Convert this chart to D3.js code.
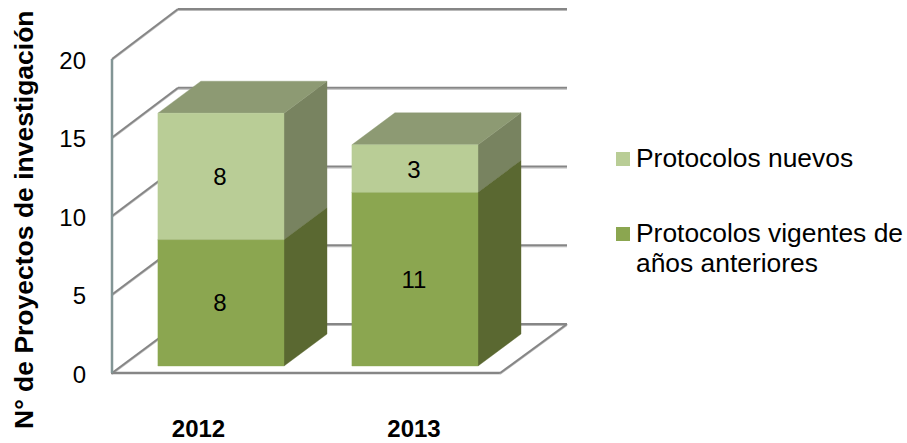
<!DOCTYPE html>
<html><head><meta charset="utf-8">
<script src="https://cdn.jsdelivr.net/npm/d3@7"></script>
<style>html,body{margin:0;padding:0;background:#fff}svg{display:block}text{font-family:"Liberation Sans",Arial,sans-serif;fill:#000}</style>
</head><body><div id="c"></div>
<script>
const categories = ["2012","2013"];
const seriesNames = ["Protocolos vigentes de|años anteriores","Protocolos nuevos"];
const vigentes = [8,11];
const nuevos = [8,3];
const yTicks = [0,5,10,15,20];
const yTitle = "N° de Proyectos de investigación";

const W=907,H=443;
const svg=d3.select("#c").append("svg").attr("width",W).attr("height",H);
const wallFront=d3.scaleLinear().domain([0,20]).range([373,59]);
const wallBack=d3.scaleLinear().domain([0,20]).range([324,9]);
const yBar=d3.scaleLinear().domain([0,20]).range([366,50]);
const x=d3.scaleBand().domain(categories).range([112,500]).paddingInner(0.35).paddingOuter(0.175).align(0.676);
const xLabel=d3.scalePoint().domain(categories).range([198.5,414]);
const backL=178, backR=567, frontL=112, frontR=500, dx=43, dy=-32;
const gridCol="#868686";

function seg(x1,y1,x2,y2,col,w){svg.append("line").attr("x1",x1).attr("y1",y1).attr("x2",x2).attr("y2",y2).attr("stroke",col).attr("stroke-width",w);}
yTicks.forEach(t=>{
  seg(frontL,wallFront(t)+1.2,backL,wallBack(t)+1.2,"#bdbdbd",1.5);
  seg(frontL,wallFront(t),backL,wallBack(t),gridCol,2);
  seg(backL,wallBack(t)+1.5,backR,wallBack(t)+1.5,"#b9b9b9",1.2);
  seg(backL,wallBack(t),backR,wallBack(t),gridCol,2.2);
});
seg(frontL-1,wallFront(0),frontR,wallFront(0),gridCol,2.5);
seg(frontR,wallFront(0)+1.2,backR,wallBack(0)+1.2,"#bdbdbd",1.5);
seg(frontR,wallFront(0),backR,wallBack(0),gridCol,2);
seg(frontL,wallFront(0),frontL,wallFront(20),"#829595",2.5);

const poly=(pts,col)=>svg.append("polygon").attr("points",pts.map(p=>p.join(",")).join(" ")).attr("fill",col).attr("stroke",col).attr("stroke-width",0.4);
function box(cat,v0,v1,front,side,top){
  const l=x(cat),r=l+x.bandwidth(),y0=yBar(v0),y1=yBar(v1);
  poly([[r,y0],[r+dx,y0+dy],[r+dx,y1+dy],[r,y1]],side);
  poly([[l,y1],[r,y1],[r+dx,y1+dy],[l+dx,y1+dy]],top);
  poly([[l,y0],[r,y0],[r,y1],[l,y1]],front);
}
categories.forEach((c,i)=>{
  box(c,0,vigentes[i],"#8BA650","#5A6831","#5A6831");
  box(c,vigentes[i],vigentes[i]+nuevos[i],"#B9CD96","#788360","#8D9A73");
  const cx=x(c)+x.bandwidth()/2-1;
  svg.append("text").attr("x",cx).attr("y",yBar(vigentes[i]/2)+8.5).attr("text-anchor","middle").attr("font-size",24).text(vigentes[i]);
  svg.append("text").attr("x",cx).attr("y",yBar(vigentes[i]+nuevos[i]/2)+9).attr("text-anchor","middle").attr("font-size",24).text(nuevos[i]);
  svg.append("text").attr("x",xLabel(c)).attr("y",437).attr("text-anchor","middle").attr("font-size",24).attr("font-weight","bold").text(c);
});
yTicks.forEach(t=>svg.append("text").attr("x",86).attr("y",wallFront(t)+9.5).attr("text-anchor","end").attr("font-size",24).text(t));
svg.append("text").attr("transform","translate(33,429) rotate(-90)").attr("font-size",26.5).attr("font-weight","bold").text(yTitle);

const lg=svg.append("g");
[[152,["Protocolos nuevos"],"#B9CD96",167],[227,seriesNames[0].split("|"),"#8BA650",242]].forEach(([sy,lines,col,base])=>{
  lg.append("rect").attr("x",616).attr("y",sy).attr("width",14).attr("height",14).attr("fill",col);
  lines.forEach((s,k)=>lg.append("text").attr("x",636).attr("y",base+k*30).attr("font-size",26.4).text(s));
});
</script></body></html>
